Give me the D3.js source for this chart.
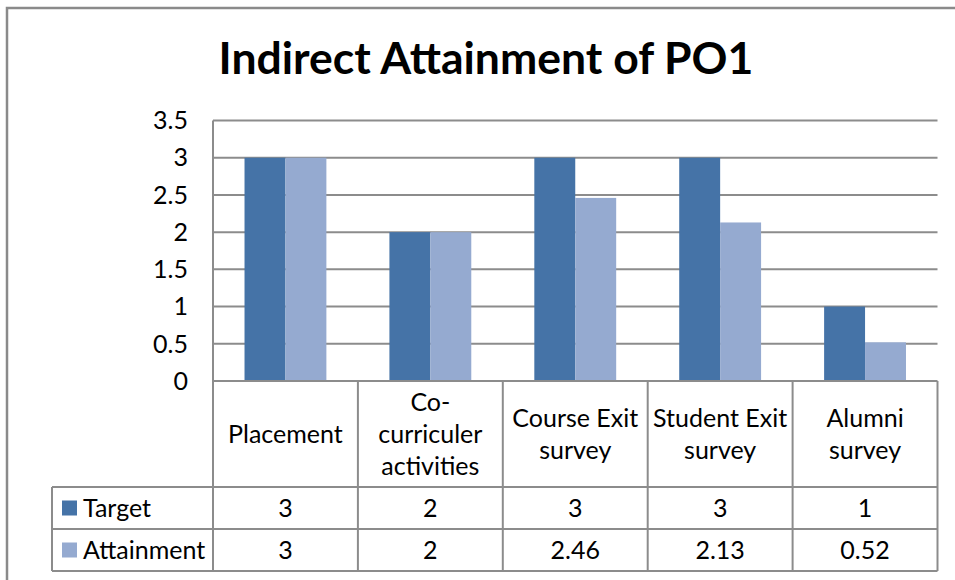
<!DOCTYPE html>
<html>
<head>
<meta charset="utf-8">
<script src="https://cdn.jsdelivr.net/npm/d3@7"></script>
<style>
  body { margin: 0; background: #fff; }
  svg { display: block; }
</style>
</head>
<body>
<div id="chart"></div>
<script>
// chart data
var categories = ["Placement", "Co-curriculer activities", "Course Exit survey", "Student Exit survey", "Alumni survey"];
var categoryLines = [["Placement"], ["Co-", "curriculer", "activities"], ["Course Exit", "survey"], ["Student Exit", "survey"], ["Alumni", "survey"]];
var seriesNames = ["Target", "Attainment"];
var targetValues = [3, 2, 3, 3, 1];
var attainmentValues = [3, 2, 2.46, 2.13, 0.52];
var yTicks = [0, 0.5, 1, 1.5, 2, 2.5, 3, 3.5];

var colors = { "Target": "#4573a7", "Attainment": "#95aad0" };
var font = "Lato, 'Open Sans', sans-serif";
var textSize = "25px";

var width = 955, height = 580;
var plot = { left: 213, right: 937.5, top: 120.5, bottom: 381 };
var rowBottoms = [487, 529, 571]; // header row, Target row, Attainment row
var legendLeft = 52;

var svg = d3.select("#chart").append("svg")
    .attr("width", width)
    .attr("height", height);

// outer chart border (runs off the right and bottom edges)
svg.append("rect")
    .attr("x", 7).attr("y", 8)
    .attr("width", 980).attr("height", 600)
    .attr("fill", "#fff")
    .attr("stroke", "#8a8a8a")
    .attr("stroke-width", 2.5);

// title
svg.append("text")
    .attr("x", 486)
    .attr("y", 74)
    .attr("text-anchor", "middle")
    .style("font-family", font)
    .style("font-weight", "bold")
    .style("font-size", "44.5px")
    .text("Indirect Attainment of PO1");

// scales
var x = d3.scaleBand()
    .domain(categories)
    .range([plot.left, plot.right])
    .paddingInner(0).paddingOuter(0);

var xSub = d3.scaleBand()
    .domain(seriesNames)
    .range([0, x.bandwidth()])
    .paddingInner(0).paddingOuter(0.77);

var y = d3.scaleLinear()
    .domain([0, 3.5])
    .range([plot.bottom, plot.top]);

// gridlines
svg.append("g")
    .selectAll("line")
    .data(yTicks.filter(function(d) { return d > 0; }))
    .enter().append("line")
    .attr("x1", plot.left).attr("x2", plot.right)
    .attr("y1", function(d) { return y(d); })
    .attr("y2", function(d) { return y(d); })
    .attr("stroke", "#8c8c8c")
    .attr("stroke-width", 2);

// y axis labels
svg.append("g")
    .selectAll("text")
    .data(yTicks)
    .enter().append("text")
    .attr("x", 188)
    .attr("y", function(d) { return y(d); })
    .attr("dy", "0.35em")
    .attr("text-anchor", "end")
    .style("font-family", font)
    .style("font-size", textSize)
    .text(function(d) { return d; });

// bars
var rows = categories.map(function(c, i) {
    return { cat: c, values: [
        { name: "Target", value: targetValues[i] },
        { name: "Attainment", value: attainmentValues[i] }
    ] };
});

var groups = svg.append("g")
    .selectAll("g")
    .data(rows)
    .enter().append("g")
    .attr("transform", function(d) { return "translate(" + x(d.cat) + ",0)"; });

groups.selectAll("rect")
    .data(function(d) { return d.values; })
    .enter().append("rect")
    .attr("x", function(d) { return xSub(d.name); })
    .attr("width", xSub.bandwidth())
    .attr("y", function(d) { return y(d.value); })
    .attr("height", function(d) { return y(0) - y(d.value); })
    .attr("fill", function(d) { return colors[d.name]; });

// data table
var grid = svg.append("g")
    .attr("stroke", "#8c8c8c")
    .attr("stroke-width", 2);

// left axis line, through the table
grid.append("line")
    .attr("x1", plot.left).attr("x2", plot.left)
    .attr("y1", plot.top).attr("y2", rowBottoms[2]);

// category column separators
grid.selectAll(".sep")
    .data(categories)
    .enter().append("line")
    .attr("x1", function(d) { return x(d) + x.bandwidth(); })
    .attr("x2", function(d) { return x(d) + x.bandwidth(); })
    .attr("y1", plot.bottom).attr("y2", rowBottoms[2]);

// axis line / table top
grid.append("line")
    .attr("x1", plot.left).attr("x2", plot.right)
    .attr("y1", plot.bottom).attr("y2", plot.bottom);

// row lines
grid.selectAll(".row")
    .data(rowBottoms)
    .enter().append("line")
    .attr("x1", legendLeft).attr("x2", plot.right)
    .attr("y1", function(d) { return d; })
    .attr("y2", function(d) { return d; });

grid.append("line")
    .attr("x1", legendLeft).attr("x2", legendLeft)
    .attr("y1", rowBottoms[0]).attr("y2", rowBottoms[2]);

// category labels in header row
var lineHeight = 32;
svg.append("g")
    .selectAll("text")
    .data(categories)
    .enter().append("text")
    .attr("text-anchor", "middle")
    .style("font-family", font)
    .style("font-size", textSize)
    .attr("transform", function(d, i) {
        var n = categoryLines[i].length;
        var cy = (plot.bottom + rowBottoms[0]) / 2 - (n - 1) * lineHeight / 2;
        return "translate(" + (x(d) + x.bandwidth() / 2) + "," + cy + ")";
    })
    .each(function(d, i) {
        d3.select(this).selectAll("tspan")
            .data(categoryLines[i])
            .enter().append("tspan")
            .attr("x", 0)
            .attr("y", function(t, j) { return j * lineHeight; })
            .attr("dy", "0.35em")
            .text(function(t) { return t; });
    });

// series rows
var seriesValues = [targetValues, attainmentValues];
seriesNames.forEach(function(name, r) {
    var top = rowBottoms[r], bottom = rowBottoms[r + 1];
    var cy = (top + bottom) / 2;

    svg.append("rect")
        .attr("x", 62).attr("y", cy - 7.5)
        .attr("width", 15).attr("height", 15)
        .attr("fill", colors[name]);

    svg.append("text")
        .attr("x", 83).attr("y", cy)
        .attr("dy", "0.35em")
        .style("font-family", font)
        .style("font-size", textSize)
        .text(name);

    svg.append("g")
        .selectAll("text")
        .data(seriesValues[r])
        .enter().append("text")
        .attr("x", function(d, i) { return x(categories[i]) + x.bandwidth() / 2; })
        .attr("y", cy)
        .attr("dy", "0.35em")
        .attr("text-anchor", "middle")
        .style("font-family", font)
        .style("font-size", textSize)
        .text(function(d) { return d; });
});
</script>
</body>
</html>
